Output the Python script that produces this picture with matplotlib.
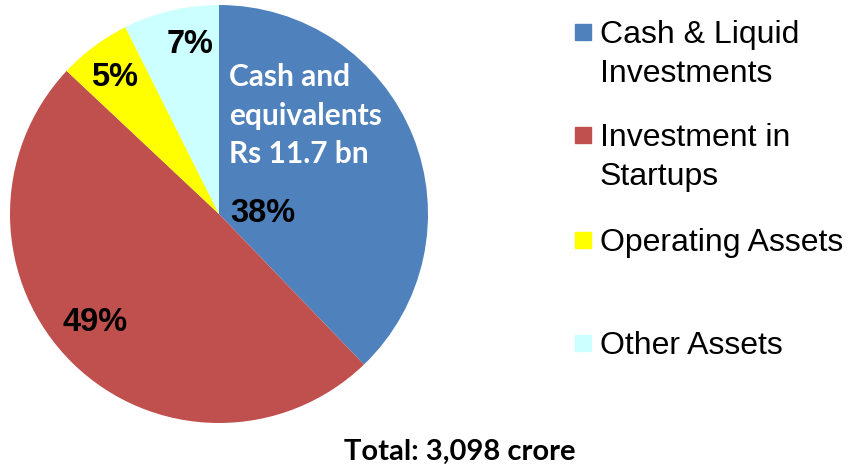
import numpy as np
import matplotlib
matplotlib.use('Agg')
import matplotlib.pyplot as plt
from matplotlib.patches import Rectangle

# data (share of total, %)
categories = ['Cash & Liquid\nInvestments', 'Investment in\nStartups',
              'Operating Assets', 'Other Assets']
shares = [37.8, 49.2, 5.6, 7.4]
pct_labels = ['38%', '49%', '5%', '7%']
colors = ['#4F81BD', '#C0504D', '#FFFF00', '#CCFFFF']
cash_note = 'Cash and\nequivalents\nRs 11.7 bn'
total_note = 'Total: 3,098 crore'

W, H = 848, 468

def px(x, y):
    return x / W, 1 - y / H

fig = plt.figure(figsize=(W / 100., H / 100.), dpi=100)

# pie centre ~ (219, 214) px, radius ~209 px
cx, cy, r = 219, 214, 209
x0, y0 = px(cx - r, cy + r)
ax = fig.add_axes([x0, y0, 2 * r / W, 2 * r / H])
ax.pie(shares, colors=colors, startangle=90, counterclock=False,
       wedgeprops=dict(linewidth=0))
ax.set_xlim(-1, 1)
ax.set_ylim(-1, 1)
ax.set_aspect('equal')
ax.axis('off')

# percentage labels (positions in pie units)
lab_pos = [(0.21, 0.0), (-0.595, -0.52), (-0.50, 0.655), (-0.14, 0.81)]
for (lx, ly), t in zip(lab_pos, pct_labels):
    ax.text(lx, ly, t, ha='center', va='center', fontsize=23.5,
            fontweight='bold', family='Liberation Sans', color='black')

ax.text(0.05, 0.47, cash_note, ha='left', va='center', fontsize=21.5,
        fontweight='bold', family='Lato', color='white', linespacing=1.45)

# legend drawn by hand to keep the uneven spacing
leg_y = [24, 127, 232, 335]
for yy, lab, c in zip(leg_y, categories, colors):
    sx, sy = px(575, yy + 16)
    fig.patches.append(Rectangle((sx, sy), 16 / W, 16 / H, color=c,
                                 transform=fig.transFigure, figure=fig))
    tx, ty = px(600, yy - 4)
    fig.text(tx, ty, lab, ha='left', va='top', fontsize=23,
             family='Liberation Sans', color='black', linespacing=1.38)

tx, ty = px(460, 452)
fig.text(tx, ty, total_note, ha='center', va='center', fontsize=21,
         fontweight='bold', family='Lato', color='black')

plt.savefig('out.png', dpi=100)
